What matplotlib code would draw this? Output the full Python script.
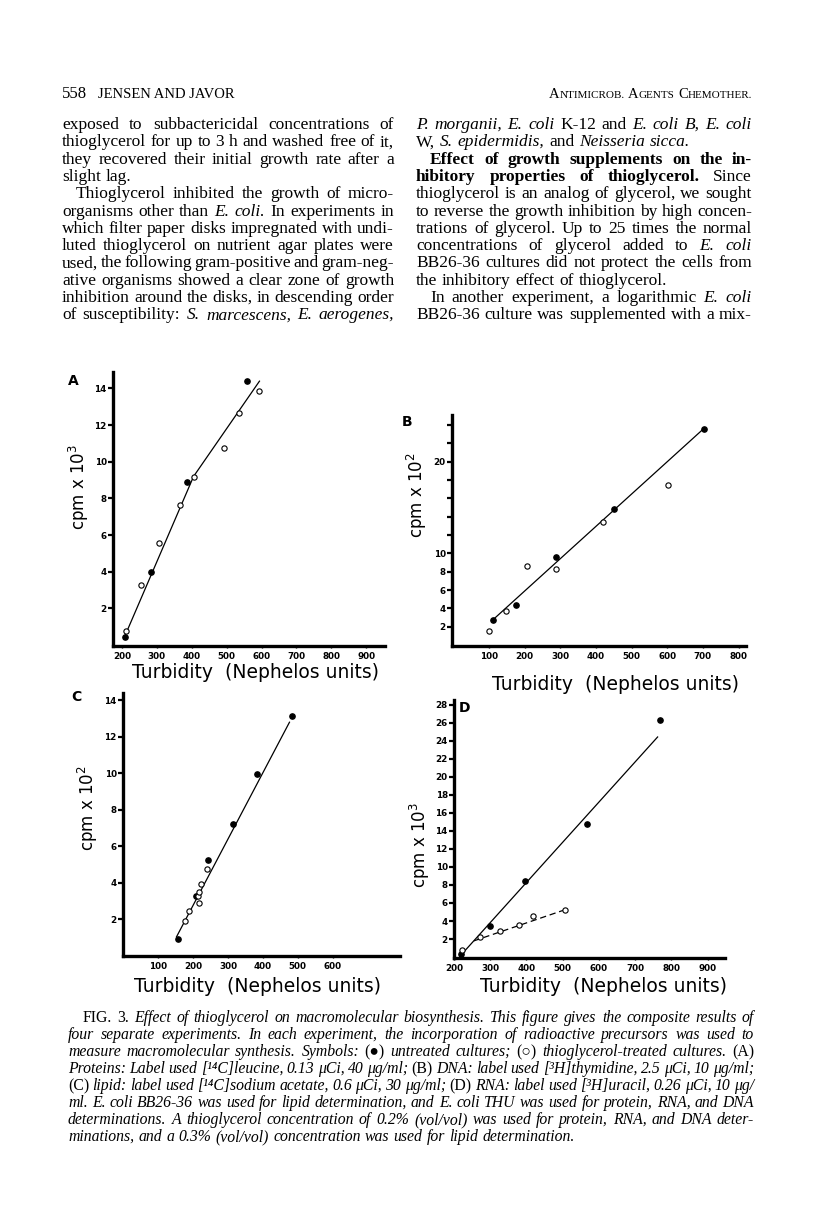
import matplotlib
matplotlib.use("Agg")
import matplotlib.pyplot as plt

W, H = 816, 1217

# ===============================
# DATA
# ===============================
# (A) proteins, cpm x 10^3
a_filled_x = [208, 284, 386, 558]
a_filled_y = [0.45, 4.0, 8.9, 14.4]
a_open_x = [210, 255, 306, 365, 405, 491, 535, 592]
a_open_y = [0.76, 3.26, 5.58, 7.64, 9.15, 10.78, 12.68, 13.84]
a_fit_x = [205, 405, 594]
a_fit_y = [0.36, 9.2, 14.4]

# (B) DNA, cpm x 10^2
b_filled_x = [110, 175, 288, 450, 702]
b_filled_y = [2.73, 4.37, 9.6, 14.85, 23.6]
b_open_x = [100, 148, 206, 289, 419, 602]
b_open_y = [1.56, 3.75, 8.6, 8.28, 13.4, 17.5]
b_fit_x = [110, 702]
b_fit_y = [2.73, 23.6]

# (C) lipid, cpm x 10^2
c_filled_x = [157, 209, 241, 313, 384, 483]
c_filled_y = [0.91, 3.28, 5.28, 7.22, 9.97, 13.16]
c_open_x = [176, 187, 213, 217, 217, 222, 239]
c_open_y = [1.93, 2.49, 3.31, 2.91, 3.51, 3.95, 4.74]
c_fit_x = [152, 476]
c_fit_y = [1.05, 12.8]

# (D) RNA, cpm x 10^3
d_filled_x = [220, 299, 395, 568, 768]
d_filled_y = [0.3, 3.4, 8.43, 14.78, 26.3]
d_open_x = [221, 273, 326, 380, 419, 507]
d_open_y = [0.82, 2.26, 2.85, 3.55, 4.51, 5.25]
d_fit_x = [216, 762]
d_fit_y = [0.08, 24.4]
d_dash_x = [255, 510]
d_dash_y = [1.8, 5.3]

# ===============================
# PAGE TEXT
# ===============================
# '_' = italic word, '*' = bold word, '^' = upright word
left_col = [
    ("exposed to subbactericidal concentrations of", 0, True),
    ("thioglycerol for up to 3 h and washed free of it,", 0, True),
    ("they recovered their initial growth rate after a", 0, True),
    ("slight lag.", 0, False),
    ("Thioglycerol inhibited the growth of micro-", 14, True),
    ("organisms other than _E. _coli. In experiments in", 0, True),
    ("which filter paper disks impregnated with undi-", 0, True),
    ("luted thioglycerol on nutrient agar plates were", 0, True),
    ("used, the following gram-positive and gram-neg-", 0, True),
    ("ative organisms showed a clear zone of growth", 0, True),
    ("inhibition around the disks, in descending order", 0, True),
    ("of susceptibility: _S. _marcescens, _E. _aerogenes,", 0, True),
]
right_col = [
    ("_P. _morganii, _E. _coli K-12 and _E. _coli _B, _E. _coli", 0, True),
    ("W, _S. _epidermidis, and _Neisseria _sicca.", 0, False),
    ("*Effect *of *growth *supplements *on *the *in-", 14, True),
    ("*hibitory *properties *of *thioglycerol. Since", 0, True),
    ("thioglycerol is an analog of glycerol, we sought", 0, True),
    ("to reverse the growth inhibition by high concen-", 0, True),
    ("trations of glycerol. Up to 25 times the normal", 0, True),
    ("concentrations of glycerol added to _E. _coli", 0, True),
    ("BB26-36 cultures did not protect the cells from", 0, True),
    ("the inhibitory effect of thioglycerol.", 0, False),
    ("In another experiment, a logarithmic _E. _coli", 14, True),
    ("BB26-36 culture was supplemented with a mix-", 0, True),
]
caption = [
    ("^FIG. ^3. Effect of thioglycerol on macromolecular biosynthesis. This figure gives the composite results of", 15, True),
    ("four separate experiments. In each experiment, the incorporation of radioactive precursors was used to", 0, True),
    ("measure macromolecular synthesis. Symbols: ^(\u25cf) untreated cultures; ^(\u25cb) thioglycerol-treated cultures. ^(A)", 0, True),
    ("Proteins: Label used [\u00b9\u2074C]leucine, 0.13 \u03bcCi, 40 \u03bcg/ml; ^(B) DNA: label used [\u00b3H]thymidine, 2.5 \u03bcCi, 10 \u03bcg/ml;", 0, True),
    ("^(C) lipid: label used [\u00b9\u2074C]sodium acetate, 0.6 \u03bcCi, 30 \u03bcg/ml; ^(D) RNA: label used [\u00b3H]uracil, 0.26 \u03bcCi, 10 \u03bcg/", 0, True),
    ("ml. E. coli BB26-36 was used for lipid determination, and E. coli THU was used for protein, RNA, and DNA", 0, True),
    ("determinations. A thioglycerol concentration of 0.2% (vol/vol) was used for protein, RNA, and DNA deter-", 0, True),
    ("minations, and a 0.3% (vol/vol) concentration was used for lipid determination.", 0, False),
]

SERIF = ["Liberation Serif", "DejaVu Serif"]


def fx(x):
    return x / W


def fy(y):
    return 1 - y / H


def put_line(fig, r, line, x0, x1, y, justify, size, default="normal"):
    texts, widths = [], []
    for tok in line.split():
        style, weight = default, "normal"
        if tok[0] == "_":
            style, tok = "italic", tok[1:]
        elif tok[0] == "*":
            weight, tok = "bold", tok[1:]
        elif tok[0] == "^":
            style, tok = "normal", tok[1:]
        t = fig.text(0, 0, tok, fontsize=size, family=SERIF, style=style,
                     weight=weight, va="baseline", ha="left")
        texts.append(t)
        widths.append(t.get_window_extent(r).width)
    if justify and len(texts) > 1:
        gap = (x1 - x0 - sum(widths)) / (len(texts) - 1)
    else:
        gap = size * 100 / 72 * 0.27
    x = x0
    for t, w in zip(texts, widths):
        t.set_position((fx(x), fy(y)))
        x += w + gap


def small_caps(fig, r, words, x_right, y, big, small):
    pieces = []
    for i, w in enumerate(words):
        pieces.append((w[0], big))
        pieces.append((w[1:], small))
        if i < len(words) - 1:
            pieces.append((" ", small))
    texts, widths = [], []
    for s, sz in pieces:
        t = fig.text(0, 0, s, fontsize=sz, family=SERIF, va="baseline")
        texts.append(t)
        widths.append(t.get_window_extent(r).width if s.strip() else sz * 100 / 72 * 0.3)
    x = x_right - sum(widths)
    for t, w in zip(texts, widths):
        t.set_position((fx(x), fy(y)))
        x += w


def panel(fig, box, xlim, ylim, xticks, yticks, ylabels):
    left, right, top, bottom = box
    ax = fig.add_axes([fx(left), fy(bottom), (right - left) / W, (bottom - top) / H])
    ax.set_xlim(*xlim)
    ax.set_ylim(*ylim)
    for s in ["top", "right"]:
        ax.spines[s].set_visible(False)
    for s in ["left", "bottom"]:
        ax.spines[s].set_linewidth(2.4)
    ax.set_xticks(xticks)
    ax.set_xticklabels([str(v) for v in xticks])
    ax.set_yticks(yticks)
    ax.set_yticklabels(ylabels)
    ax.tick_params(axis="y", length=3.5, width=1.6, pad=1, labelsize=6.3)
    ax.tick_params(axis="x", length=1.5, width=1.0, pad=3, labelsize=6.3)
    for lab in ax.get_xticklabels() + ax.get_yticklabels():
        lab.set_fontweight("bold")
    return ax


def points(ax, fx_, fy_, ox, oy, lx, ly):
    ax.plot(lx, ly, color="black", lw=0.9)
    ax.plot(fx_, fy_, "o", color="black", ms=3.8)
    ax.plot(ox, oy, "o", mfc="white", mec="black", mew=0.8, ms=3.8)


fig = plt.figure(figsize=(W / 100, H / 100), dpi=100)
fig.patch.set_facecolor("white")
r = fig.canvas.get_renderer()

# header
fig.text(fx(62), fy(98), "558", fontsize=12, family=SERIF, va="baseline")
fig.text(fx(98), fy(98), "JENSEN AND JAVOR", fontsize=10.5, family=SERIF, va="baseline")
small_caps(fig, r, ["ANTIMICROB.", "AGENTS", "CHEMOTHER."], 752, 98, 10.5, 8)

# body columns
for i, (line, ind, just) in enumerate(left_col):
    put_line(fig, r, line, 62 + ind, 394, 129 + i * 17.3, just, 12.5)
for i, (line, ind, just) in enumerate(right_col):
    put_line(fig, r, line, 416 + ind, 752, 129 + i * 17.3, just, 12.5)

# caption
for i, (line, ind, just) in enumerate(caption):
    put_line(fig, r, line, 68 + ind, 754, 1022 + i * 17.0, just, 11.3, default="italic")

# ===============================
# PANELS
# ===============================
yt_a = [2, 4, 6, 8, 10, 12, 14]
ax = panel(fig, (113, 385, 372, 646), (174, 954), (-0.05, 14.9),
           [200, 300, 400, 500, 600, 700, 800, 900], yt_a, [str(v) for v in yt_a])
points(ax, a_filled_x, a_filled_y, a_open_x, a_open_y, a_fit_x, a_fit_y)

yt_b = list(range(2, 25, 2))
yl_b = [str(v) if v in (2, 4, 6, 8, 10, 20) else "" for v in yt_b]
ax = panel(fig, (452, 746, 415, 646), (-4, 821), (-0.1, 25.1),
           [100, 200, 300, 400, 500, 600, 700, 800], yt_b, yl_b)
points(ax, b_filled_x, b_filled_y, b_open_x, b_open_y, b_fit_x, b_fit_y)

yt_c = [2, 4, 6, 8, 10, 12, 14]
ax = panel(fig, (123, 400, 693, 956), (-1.5, 793), (0.0, 14.4),
           [100, 200, 300, 400, 500, 600], yt_c, [str(v) for v in yt_c])
points(ax, c_filled_x, c_filled_y, c_open_x, c_open_y, c_fit_x, c_fit_y)

yt_d = list(range(2, 29, 2))
ax = panel(fig, (454, 725, 700, 958), (200, 948), (-0.1, 28.5),
           [200, 300, 400, 500, 600, 700, 800, 900], yt_d, [str(v) for v in yt_d])
ax.plot(d_dash_x, d_dash_y, color="black", lw=0.9, ls=(0, (5, 3)))
points(ax, d_filled_x, d_filled_y, d_open_x, d_open_y, d_fit_x, d_fit_y)

# panel letters, axis titles
for letter, x, y in [("A", 73, 381), ("B", 407, 422), ("C", 76, 697), ("D", 464, 708)]:
    fig.text(fx(x), fy(y), letter, fontsize=10, weight="bold", ha="center", va="center")

for x, y, e in [(79, 487, 3), (417, 495, 2), (88, 808, 2), (420, 845, 3)]:
    fig.text(fx(x), fy(y), "cpm x 10$^{%d}$" % e, fontsize=12, rotation=90,
             ha="center", va="center")

for x, y in [(255, 673), (615, 685), (257, 986), (603, 986)]:
    fig.text(fx(x), fy(y), "Turbidity  (Nephelos units)", fontsize=13.5,
             ha="center", va="center")

fig.savefig("out.png", dpi=100, facecolor="white")
